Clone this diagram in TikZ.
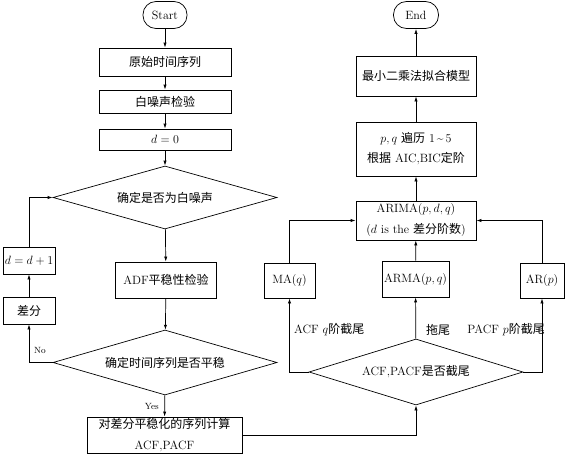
\documentclass[tikz,border=0pt]{standalone}
\usepackage{fontspec}
\newfontfamily\cjk{Noto Sans CJK SC}
\usetikzlibrary{shapes.geometric,arrows.meta}
\newcommand{\zhtxt}[1]{{\cjk #1}}
\begin{document}
\begin{tikzpicture}[x=1pt,y=-1pt,
  every node/.style={font=\fontsize{12}{14}\selectfont},
  box/.style={draw,line width=0.7pt,rectangle,inner sep=0pt,align=center},
  term/.style={box,rounded corners=13pt},
  dia/.style={draw,line width=0.7pt,diamond,inner sep=0pt,align=center,aspect=3.5},
  conn/.style={line width=0.7pt,-{Latex[length=5pt,width=3.2pt]}},
  lab/.style={font=\fontsize{12}{14}\selectfont,inner sep=0pt},
  small/.style={font=\fontsize{9}{11}\selectfont,inner sep=0pt}]
\useasboundingbox (0,0) rectangle (566,455);
% left column
\node[term,minimum width=44pt,minimum height=27pt] (start) at (165,15) {Start};
\node[box,minimum width=132pt,minimum height=28pt] (n1) at (165,62) {\zhtxt{原始时间序列}};
\node[box,minimum width=132pt,minimum height=23pt] (n2) at (165,101.5) {\zhtxt{白噪声检验}};
\node[box,minimum width=132pt,minimum height=21pt] (n3) at (165,139.5) {$d=0$};
\node[dia,minimum width=224pt,minimum height=63pt] (d1) at (165,197.5) {\zhtxt{确定是否为白噪声}};
\node[box,minimum width=101pt,minimum height=36pt] (adf) at (166,280) {ADF\zhtxt{平稳性检验}};
\node[dia,minimum width=224pt,minimum height=65pt] (d2) at (165,362.5) {\zhtxt{确定时间序列是否平稳}};
\node[box,minimum width=155pt,minimum height=36pt,font=\fontsize{12}{21}\selectfont] (acf) at (164.5,435) {\zhtxt{对差分平稳化的序列计算}\\ACF,PACF};
\node[box,minimum width=52pt,minimum height=27pt] (chafen) at (29,310.5) {\zhtxt{差分}};
\node[box,minimum width=52pt,minimum height=27pt] (dd1) at (29,260.5) {$d=d+1$};
% right column
\node[term,minimum width=45pt,minimum height=27pt] (end) at (416,15) {End};
\node[box,minimum width=120pt,minimum height=40pt] (ls) at (416,76) {\zhtxt{最小二乘法拟合模型}};
\node[box,minimum width=120pt,minimum height=54pt,font=\fontsize{12}{20}\selectfont] (pq) at (416,149) {$p,q$ \zhtxt{遍历} 1\,\textasciitilde\,5\\\zhtxt{根据} AIC,BIC\zhtxt{定阶}};
\node[box,minimum width=120pt,minimum height=39pt,font=\fontsize{12}{21}\selectfont] (arima) at (416,220.5) {ARIMA$(p,d,q)$\\($d$ is the \zhtxt{差分阶数})};
\node[box,minimum width=51pt,minimum height=35pt] (ma) at (289.5,280.5) {MA$(q)$};
\node[box,minimum width=67pt,minimum height=36pt] (arma) at (415.5,279) {ARMA$(p,q)$};
\node[box,minimum width=44pt,minimum height=35pt] (ar) at (542,280.5) {AR$(p)$};
\node[dia,minimum width=214pt,minimum height=66pt] (d3) at (416,372) {ACF,PACF\zhtxt{是否截尾}};
% connectors left
\draw[conn] (start) -- (n1);
\draw[conn] (n1) -- (n2);
\draw[conn] (n2) -- (n3);
\draw[conn] (n3) -- (d1);
\draw[conn] (d1) -- (adf);
\draw[conn] (adf) -- (d2);
\draw[conn] (d2) -- (acf);
\node[small,anchor=east] (yes) at (159,406) {Yes};
\draw[conn] (d2.west) -| (chafen.south);
\node[small,anchor=west] (no) at (34,350) {No};
\draw[conn] (chafen) -- (dd1);
\draw[conn] (dd1.north) |- (d1.west);
% connectors right
\draw[conn] (acf.east) -| (d3.south);
\draw[conn] (d3.west) -| (ma.south);
\draw[conn] (d3) -- (arma);
\draw[conn] (d3.east) -| (ar.south);
\draw[conn] (ma.north) |- (arima.west);
\draw[conn] (arma) -- (arima);
\draw[conn] (ar.north) |- (arima.east);
\draw[conn] (arima) -- (pq);
\draw[conn] (pq) -- (ls);
\draw[conn] (ls) -- (end);
\node[lab,anchor=west] (l1) at (294,330) {ACF $q$\zhtxt{阶截尾}};
\node[lab,anchor=west] (l2) at (426,330) {\zhtxt{拖尾}};
\node[lab,anchor=east] (l3) at (545,330) {PACF $p$\zhtxt{阶截尾}};
\end{tikzpicture}
\end{document}
